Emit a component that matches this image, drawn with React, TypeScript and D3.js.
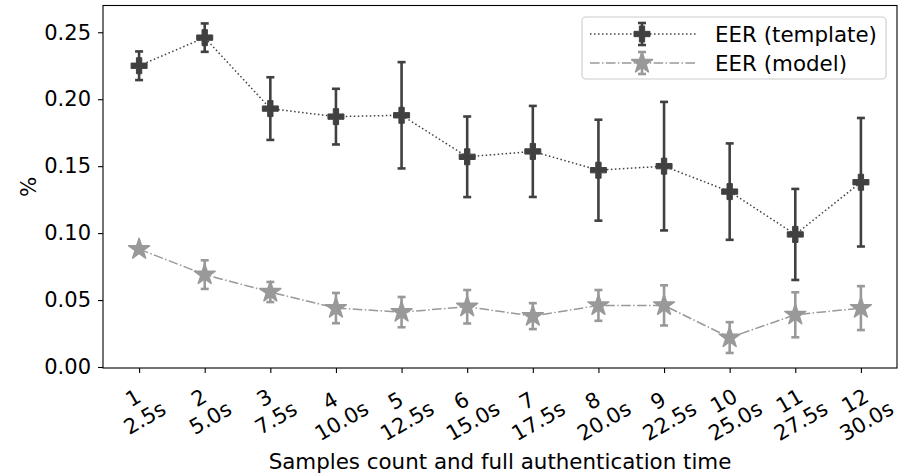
import React, { useEffect, useRef } from 'react';
import * as d3 from 'd3';

// sample counts and the matching full authentication time
const counts = ['1', '2', '3', '4', '5', '6', '7', '8', '9', '10', '11', '12'];
const times = ['2.5s', '5.0s', '7.5s', '10.0s', '12.5s', '15.0s', '17.5s', '20.0s', '22.5s', '25.0s', '27.5s', '30.0s'];

const templateMean = [0.225, 0.246, 0.193, 0.187, 0.188, 0.157, 0.161, 0.147, 0.150, 0.131, 0.099, 0.138];
const templateErr = [0.0107, 0.0106, 0.0234, 0.0208, 0.0397, 0.0301, 0.034, 0.0377, 0.048, 0.036, 0.034, 0.048];
const modelMean = [0.088, 0.069, 0.056, 0.044, 0.041, 0.045, 0.038, 0.046, 0.046, 0.022, 0.039, 0.044];
const modelErr = [0.002, 0.0107, 0.0075, 0.0113, 0.0113, 0.0125, 0.0097, 0.0115, 0.015, 0.0115, 0.0168, 0.0164];

const yTicks = [0, 0.05, 0.1, 0.15, 0.2, 0.25];

const W = 911;
const H = 476;
const FONT = '"DejaVu Sans", sans-serif';
const FS = 21;
const FS_LABEL = 21.4;

const DARK = '#404040';
const LIGHT = '#999999';

function plusPath(s: number) {
  const u = s / 6;
  const pts = [[-1, -3], [1, -3], [1, -1], [3, -1], [3, 1], [1, 1], [1, 3], [-1, 3], [-1, 1], [-3, 1], [-3, -1], [-1, -1]];
  return 'M' + pts.map(p => `${p[0] * u},${p[1] * u}`).join('L') + 'Z';
}

function starPath(r: number) {
  const pts: string[] = [];
  for (let i = 0; i < 10; i++) {
    const rad = i % 2 === 0 ? r : r * 0.381966;
    const a = (-90 + i * 36) * Math.PI / 180;
    pts.push(`${rad * Math.cos(a)},${rad * Math.sin(a)}`);
  }
  return 'M' + pts.join('L') + 'Z';
}

// rough DejaVu Sans advance widths (em) for the tick strings
function textWidth(s: string, fs: number) {
  let w = 0;
  for (const c of s) w += c === '.' ? 0.318 : c === 's' ? 0.521 : 0.636;
  return w * fs;
}

export default function App() {
  const svgRef = useRef<SVGSVGElement>(null);

  useEffect(() => {
    if (!svgRef.current) return;
    const svg = d3.select(svgRef.current);
    svg.selectAll('*').remove();

    const left = 103, right = 897, top = 5.5, bottom = 368;

    const x = d3.scaleLinear().domain([0.45, 12.55]).range([left, right]);
    const y = d3.scaleLinear().domain([-0.00075, 0.27]).range([bottom, top]);

    const idx = counts.map((_, i) => i + 1);

    // y axis
    const yAxis = svg.append('g')
      .attr('transform', `translate(${left},0)`)
      .call(d3.axisLeft(y).tickValues(yTicks).tickSize(5).tickPadding(7).tickFormat(d => (+d).toFixed(2)));
    yAxis.select('.domain').remove();
    yAxis.selectAll('line').attr('stroke', '#000').attr('stroke-width', 1.1);
    yAxis.selectAll('text').attr('font-family', FONT).attr('font-size', FS).attr('fill', '#000');

    // x axis ticks
    const xAxis = svg.append('g')
      .attr('transform', `translate(0,${bottom})`)
      .call(d3.axisBottom(x).tickValues(idx).tickSize(5).tickFormat(() => ''));
    xAxis.select('.domain').remove();
    xAxis.selectAll('line').attr('stroke', '#000').attr('stroke-width', 1.1);

    // two-line rotated tick labels
    const lh = 23;
    idx.forEach((v, i) => {
      const w = textWidth(times[i], FS);
      const cy = 408 + (w - 44) * 0.23;
      const g = svg.append('g')
        .attr('transform', `translate(${x(v)},${cy}) rotate(-30)`)
        .attr('font-family', FONT).attr('font-size', FS).attr('text-anchor', 'middle');
      g.append('text').attr('y', -lh / 2).attr('dominant-baseline', 'central').text(counts[i]);
      g.append('text').attr('y', lh / 2).attr('dominant-baseline', 'central').text(times[i]);
    });

    // frame
    svg.append('rect')
      .attr('x', left).attr('y', top)
      .attr('width', right - left).attr('height', bottom - top)
      .attr('fill', 'none').attr('stroke', '#000').attr('stroke-width', 1.1);

    // axis labels
    svg.append('text')
      .attr('x', (left + right) / 2).attr('y', 469)
      .attr('text-anchor', 'middle').attr('font-family', FONT).attr('font-size', FS_LABEL)
      .text('Samples count and full authentication time');
    svg.append('text')
      .attr('transform', `translate(28,${(top + bottom) / 2}) rotate(-90)`)
      .attr('text-anchor', 'middle').attr('dominant-baseline', 'central')
      .attr('font-family', FONT).attr('font-size', FS_LABEL)
      .text('%');

    const series = [
      { mean: templateMean, err: templateErr, color: DARK, dash: '1.5,2.5', marker: plusPath(16), sw: 1 },
      { mean: modelMean, err: modelErr, color: LIGHT, dash: '9.6,2.4,1.5,2.4', marker: starPath(11), sw: 1.5 },
    ];

    series.forEach(s => {
      const g = svg.append('g');
      // error bars
      s.mean.forEach((m, i) => {
        const cx = x(i + 1);
        const y1 = y(m + s.err[i]);
        const y2 = y(m - s.err[i]);
        g.append('line').attr('x1', cx).attr('x2', cx).attr('y1', y1).attr('y2', y2)
          .attr('stroke', s.color).attr('stroke-width', 2.6);
        [y1, y2].forEach(cyv => {
          g.append('line').attr('x1', cx - 4).attr('x2', cx + 4).attr('y1', cyv).attr('y2', cyv)
            .attr('stroke', s.color).attr('stroke-width', 2.6);
        });
      });
      // connecting line
      const line = d3.line<number>().x((_, i) => x(i + 1)).y(d => y(d));
      g.append('path').datum(s.mean)
        .attr('d', line)
        .attr('fill', 'none')
        .attr('stroke', s.color)
        .attr('stroke-width', 1.5)
        .attr('stroke-dasharray', s.dash);
      // markers
      g.selectAll('.mk').data(s.mean).enter().append('path')
        .attr('d', s.marker)
        .attr('transform', (d, i) => `translate(${x(i + 1)},${y(d)})`)
        .attr('fill', s.color)
        .attr('stroke', s.color)
        .attr('stroke-linejoin', 'round')
        .attr('stroke-width', s.sw);
    });

    // legend
    const lg = svg.append('g');
    lg.append('rect')
      .attr('x', 582).attr('y', 17).attr('width', 304).attr('height', 62)
      .attr('rx', 4).attr('fill', 'white').attr('fill-opacity', 0.8)
      .attr('stroke', '#cccccc').attr('stroke-width', 1.1);
    const labels = ['EER (template)', 'EER (model)'];
    series.forEach((s, i) => {
      const ly = 34 + i * 29;
      lg.append('line').attr('x1', 590).attr('x2', 697).attr('y1', ly).attr('y2', ly)
        .attr('stroke', s.color).attr('stroke-width', 1.5).attr('stroke-dasharray', s.dash);
      lg.append('line').attr('x1', 642).attr('x2', 642).attr('y1', ly - 11).attr('y2', ly + 11)
        .attr('stroke', s.color).attr('stroke-width', 2.6);
      [ly - 11, ly + 11].forEach(cyv => {
        lg.append('line').attr('x1', 638).attr('x2', 646).attr('y1', cyv).attr('y2', cyv)
          .attr('stroke', s.color).attr('stroke-width', 2.6);
      });
      lg.append('path').attr('d', s.marker).attr('transform', `translate(642,${ly})`)
        .attr('fill', s.color).attr('stroke', s.color).attr('stroke-linejoin', 'round').attr('stroke-width', s.sw);
      lg.append('text').attr('x', 715).attr('y', ly)
        .attr('dominant-baseline', 'central')
        .attr('font-family', FONT).attr('font-size', FS_LABEL)
        .text(labels[i]);
    });
  }, []);

  return (
    <svg
      ref={svgRef}
      width={W}
      height={H}
      style={{ position: 'absolute', left: 0, top: 0, background: 'white' }}
    />
  );
}
